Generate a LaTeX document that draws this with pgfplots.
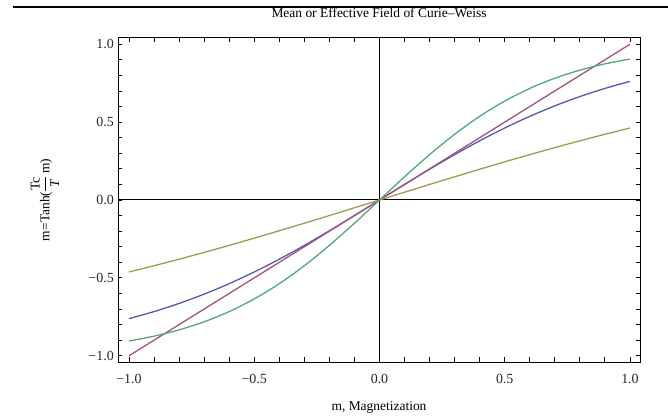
\documentclass[border=0pt]{standalone}
\usepackage{amsmath}
\usepackage{fontspec}
\setmainfont{Liberation Serif}
\usepackage{pgfplots}
\pgfplotsset{compat=1.18}

\definecolor{mblue}{rgb}{0.34,0.34,0.68}
\definecolor{mpurple}{rgb}{0.64,0.32,0.50}
\definecolor{molive}{rgb}{0.64,0.60,0.30}
\definecolor{mgreen}{rgb}{0.32,0.66,0.46}

% tanh(a m), a = 1, 1.5, 0.5, and the line m
\pgfplotstableread{
m     a1       a15      a05
-1.0 -0.76159 -0.90515 -0.46212
-0.9 -0.71630 -0.87405 -0.42190
-0.8 -0.66404 -0.83365 -0.37995
-0.7 -0.60437 -0.78181 -0.33638
-0.6 -0.53705 -0.71630 -0.29131
-0.5 -0.46212 -0.63515 -0.24492
-0.4 -0.37995 -0.53705 -0.19738
-0.3 -0.29131 -0.42190 -0.14889
-0.2 -0.19738 -0.29131 -0.09967
-0.1 -0.09967 -0.14889 -0.04996
 0.0  0.00000  0.00000  0.00000
 0.1  0.09967  0.14889  0.04996
 0.2  0.19738  0.29131  0.09967
 0.3  0.29131  0.42190  0.14889
 0.4  0.37995  0.53705  0.19738
 0.5  0.46212  0.63515  0.24492
 0.6  0.53705  0.71630  0.29131
 0.7  0.60437  0.78181  0.33638
 0.8  0.66404  0.83365  0.37995
 0.9  0.71630  0.87405  0.42190
 1.0  0.76159  0.90515  0.46212
}\magdata

\begin{document}
\begin{tikzpicture}[font=\fontsize{13.5}{15}\selectfont]
\begin{axis}[
  at={(0,0)}, anchor=south west,
  scale only axis,
  width=522bp, height=324bp,
  xmin=-1.044, xmax=1.04,
  ymin=-1.04, ymax=1.04,
  xtick={-1,-0.5,0,0.5,1},
  xticklabels={−1.0,−0.5,0.0,0.5,1.0},
  ytick={-1,-0.5,0,0.5,1},
  yticklabels={−1.0,−0.5,0.0,0.5,1.0},
  minor tick num=4,
  tick align=inside,
  xtick pos=both, ytick pos=both,
  major tick length=4.5bp, minor tick length=4.5bp,
  tick style={black, line width=0.9pt},
  axis line style={black, line width=1pt},
  tick label style={text=black!85, font=\fontsize{14}{16}\selectfont},
  xticklabel style={anchor=base, yshift=-21bp, inner sep=0pt},
  yticklabel style={anchor=east, xshift=-4bp, inner sep=0pt},
  title={Mean or Effective Field of Curie–Weiss},
  title style={at={(0.5,1)}, anchor=base, yshift=15bp, inner sep=0pt},
  xlabel={m, Magnetization},
  xlabel style={at={(0.5,0)}, anchor=base, yshift=-48bp, inner sep=0pt},
  ylabel={m=Tanh($\dfrac{\text{Tc}}{\textit{T}}$\,m)},
  ylabel style={at={([xshift=-73bp]axis description cs:0,0.5)}, anchor=center, inner sep=0pt, rotate=0},
  clip=false,
]
\addplot[black, line width=1pt, forget plot] coordinates {(0,-1.04) (0,1.04)};
\addplot[black, line width=1pt, forget plot] coordinates {(-1.044,0) (1.04,0)};
\addplot[mblue, line width=1.3pt, smooth] table[x=m, y=a1] {\magdata};
\addplot[mpurple, line width=1.3pt] coordinates {(-1,-1) (1,1)};
\addplot[molive, line width=1.3pt, smooth] table[x=m, y=a05] {\magdata};
\addplot[mgreen, line width=1.3pt, smooth] table[x=m, y=a15] {\magdata};
\end{axis}
\draw[black, line width=1.6pt] (-105bp,355bp) -- (550bp,355bp);
\pgfresetboundingbox
\path (-118bp,-57bp) rectangle (550bp,362bp);
\end{tikzpicture}
\end{document}
